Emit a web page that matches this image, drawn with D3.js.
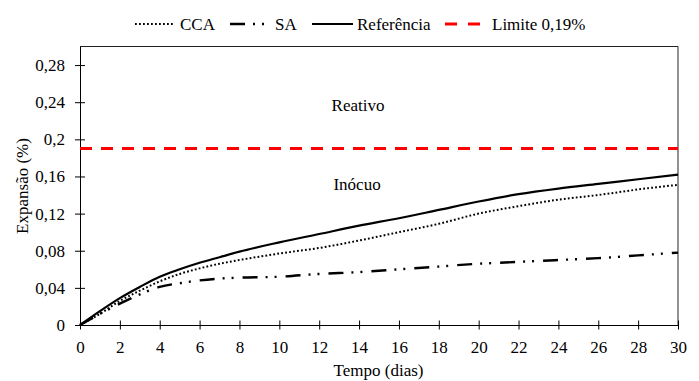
<!DOCTYPE html>
<html>
<head>
<meta charset="utf-8">
<script src="https://cdn.jsdelivr.net/npm/d3@7"></script>
<style>
  body { margin: 0; background: #fff; }
  text { font-family: "Liberation Serif", "Times New Roman", serif; font-size: 17px; fill: #000; }
</style>
</head>
<body>
<svg id="chart" width="699" height="381"></svg>
<script>
// tempo (dias)
var dias = [0, 1, 2, 3, 4, 5, 6, 7, 8, 10, 12, 14, 16, 18, 20, 22, 24, 26, 28, 30];
// expansao (%)
var cca = [0, 0.012, 0.026, 0.037, 0.047, 0.055, 0.061, 0.066, 0.070, 0.077, 0.083, 0.091, 0.100, 0.109, 0.120, 0.128, 0.135, 0.140, 0.146, 0.151];
var sa  = [0, 0.012, 0.023, 0.033, 0.041, 0.045, 0.048, 0.050, 0.051, 0.052, 0.055, 0.057, 0.060, 0.063, 0.066, 0.068, 0.070, 0.072, 0.075, 0.078];
var ref = [0, 0.015, 0.029, 0.041, 0.052, 0.060, 0.067, 0.073, 0.079, 0.089, 0.098, 0.107, 0.115, 0.124, 0.133, 0.141, 0.147, 0.152, 0.157, 0.162];
var limite = 0.19;

var xTicks = d3.range(0, 31, 2);
var yTicks = [0, 0.04, 0.08, 0.12, 0.16, 0.2, 0.24, 0.28];
var yLabels = ['0', '0,04', '0,08', '0,12', '0,16', '0,2', '0,24', '0,28'];

var series = [
    {name: 'CCA', values: cca, dash: '1.8,2.2', width: 2, color: '#000'},
    {name: 'SA', values: sa, dash: '15,8,2,7,2,9', width: 2.4, color: '#000'},
    {name: 'Referência', values: ref, dash: null, width: 2.2, color: '#000'}
];

var margin = {top: 46.5, right: 21, bottom: 56, left: 80};
var W = 699, H = 381;
var w = W - margin.left - margin.right,
    h = H - margin.top - margin.bottom;

var svg = d3.select('#chart');
var g = svg.append('g')
    .attr('transform', 'translate(' + margin.left + ',' + margin.top + ')');

var x = d3.scaleLinear().domain([0, 30]).range([0, w]);
var y = d3.scaleLinear().domain([0, 0.3]).range([h, 0]);

// moldura
g.append('path')
    .attr('d', 'M0,0H' + w + 'V' + h)
    .attr('fill', 'none')
    .attr('stroke', '#222')
    .attr('stroke-width', 1);

// eixos
var xAxis = g.append('g')
    .attr('transform', 'translate(0,' + h + ')')
    .call(d3.axisBottom(x).tickValues(xTicks).tickSize(0).tickPadding(16).tickFormat(d3.format('d')));
xAxis.select('.domain').attr('stroke', '#000');
xAxis.selectAll('.tick').append('line')
    .attr('y1', -4.5).attr('y2', 4.5).attr('stroke', '#000');
xAxis.selectAll('text')
    .style('font-family', '"Liberation Serif", serif').style('font-size', '17px').attr('fill', '#000');

var yAxis = g.append('g')
    .call(d3.axisLeft(y).tickValues(yTicks).tickSize(0).tickPadding(15)
        .tickFormat(function(d, i) { return yLabels[i]; }));
yAxis.select('.domain').attr('stroke', '#000');
yAxis.selectAll('.tick').append('line')
    .attr('x1', -5).attr('x2', 5).attr('stroke', '#000');
yAxis.selectAll('text')
    .style('font-family', '"Liberation Serif", serif').style('font-size', '17px').attr('fill', '#000');

// limite
g.append('line')
    .attr('x1', 0).attr('x2', w)
    .attr('y1', y(limite)).attr('y2', y(limite))
    .attr('stroke', '#ff0000')
    .attr('stroke-width', 3)
    .attr('stroke-dasharray', '12,9');

// curvas
var line = d3.line()
    .x(function(d, i) { return x(dias[i]); })
    .y(function(d) { return y(d); })
    .curve(d3.curveMonotoneX);

series.forEach(function(s) {
    g.append('path')
        .attr('d', line(s.values))
        .attr('fill', 'none')
        .attr('stroke', s.color)
        .attr('stroke-width', s.width)
        .attr('stroke-dasharray', s.dash);
});

// anotacoes
g.append('text').attr('x', x(13.95)).attr('y', y(0.231)).attr('text-anchor', 'middle').text('Reativo');
g.append('text').attr('x', x(13.9)).attr('y', y(0.145)).attr('text-anchor', 'middle').text('Inócuo');

// titulos dos eixos
svg.append('text')
    .attr('x', margin.left + w / 2 - 0.5)
    .attr('y', 376)
    .attr('text-anchor', 'middle')
    .text('Tempo (dias)');
svg.append('text')
    .attr('transform', 'translate(28,' + 186 + ')rotate(-90)')
    .attr('text-anchor', 'middle')
    .text('Expansão (%)');

// legenda
var legend = [
    {name: 'CCA', x1: 135, x2: 173, tx: 180, dash: '1.8,2.2', width: 2, color: '#000'},
    {name: 'SA', x1: 230, x2: 268, tx: 275, dash: '15,8,2,7,2,9', width: 2.4, color: '#000'},
    {name: 'Referência', x1: 312, x2: 353, tx: 357, dash: null, width: 2.2, color: '#000'},
    {name: 'Limite 0,19%', x1: 445, x2: 480, tx: 492, dash: '12,11', width: 3, color: '#ff0000'}
];
var lg = svg.append('g').attr('class', 'legend');
legend.forEach(function(l) {
    lg.append('line')
        .attr('x1', l.x1).attr('x2', l.x2)
        .attr('y1', 24).attr('y2', 24)
        .attr('stroke', l.color)
        .attr('stroke-width', l.width)
        .attr('stroke-dasharray', l.dash);
    lg.append('text').attr('x', l.tx).attr('y', 30).text(l.name);
});
</script>
</body>
</html>
